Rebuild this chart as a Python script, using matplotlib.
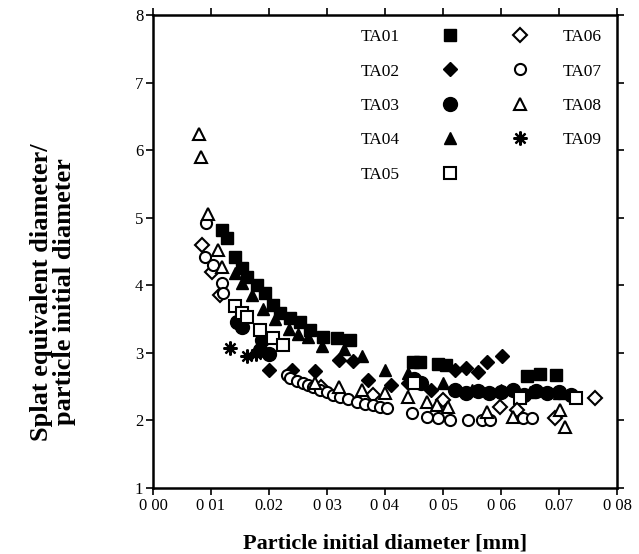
#Splat / particle diameter ratio vs particle initial diameter
import matplotlib
matplotlib.use("Agg")
import matplotlib.pyplot as plt

plt.rcParams['font.family'] = ['Liberation Serif', 'DejaVu Serif']

# dados (x em mm, y = razao de diametros)
ta01_x = [0.0119, 0.0128, 0.0141, 0.0153, 0.0162, 0.0179, 0.0193, 0.0207, 0.0219, 0.0236, 0.0253,
          0.0271, 0.0293, 0.0317, 0.0340, 0.0448, 0.0460, 0.0491, 0.0505, 0.0645, 0.0668, 0.0695]
ta01_y = [4.82, 4.70, 4.42, 4.25, 4.12, 4.00, 3.88, 3.71, 3.59, 3.51, 3.46,
          3.34, 3.23, 3.22, 3.19, 2.86, 2.86, 2.83, 2.82, 2.66, 2.68, 2.67]

ta02_x = [0.0200, 0.0240, 0.0280, 0.0320, 0.0345, 0.0370, 0.0410, 0.0440, 0.0480, 0.0520,
          0.0540, 0.0560, 0.0576, 0.0602]
ta02_y = [2.75, 2.74, 2.73, 2.90, 2.88, 2.60, 2.52, 2.55, 2.45, 2.75,
          2.78, 2.72, 2.86, 2.95]

ta03_x = [0.0145, 0.0153, 0.0188, 0.0184, 0.0200, 0.0450, 0.0462, 0.0520, 0.0540, 0.0560,
          0.0580, 0.0600, 0.0620, 0.0640, 0.0660, 0.0680, 0.0700, 0.0720]
ta03_y = [3.45, 3.38, 3.19, 3.04, 2.98, 2.62, 2.55, 2.45, 2.40, 2.43,
          2.40, 2.42, 2.45, 2.38, 2.43, 2.40, 2.42, 2.38]

ta04_x = [0.0141, 0.0153, 0.0170, 0.0190, 0.0210, 0.0235, 0.0250, 0.0267, 0.0292, 0.0330,
          0.0360, 0.0400, 0.0440, 0.0500, 0.0550, 0.0600, 0.0650, 0.0700]
ta04_y = [4.18, 4.03, 3.85, 3.65, 3.50, 3.35, 3.28, 3.23, 3.10, 3.05,
          2.95, 2.75, 2.70, 2.55, 2.45, 2.45, 2.42, 2.40]

ta05_x = [0.0141, 0.0153, 0.0162, 0.0184, 0.0207, 0.0225, 0.0450, 0.0633, 0.0729]
ta05_y = [3.70, 3.59, 3.53, 3.34, 3.22, 3.12, 2.55, 2.33, 2.33]

ta06_x = [0.0084, 0.0102, 0.0115, 0.0290, 0.0380, 0.0500, 0.0598, 0.0628, 0.0693, 0.0762]
ta06_y = [4.60, 4.20, 3.85, 2.50, 2.38, 2.30, 2.20, 2.15, 2.04, 2.33]

ta07_x = [0.0091, 0.0090, 0.0103, 0.0119, 0.0121, 0.0231, 0.0236, 0.0248, 0.0259, 0.0268,
          0.0276, 0.0288, 0.0300, 0.0311, 0.0322, 0.0337, 0.0352, 0.0365, 0.0379, 0.0391,
          0.0403, 0.0447, 0.0472, 0.0491, 0.0512, 0.0543, 0.0567, 0.0581, 0.0638, 0.0653]
ta07_y = [4.92, 4.42, 4.30, 4.03, 3.88, 2.67, 2.63, 2.59, 2.55, 2.52,
          2.49, 2.45, 2.42, 2.38, 2.35, 2.31, 2.27, 2.25, 2.23, 2.20,
          2.18, 2.11, 2.05, 2.04, 2.01, 2.01, 2.00, 2.00, 2.04, 2.04]

ta08_x = [0.0079, 0.0083, 0.0095, 0.0112, 0.0119, 0.0280, 0.0320, 0.0360, 0.0400, 0.0440,
          0.0472, 0.0490, 0.0509, 0.0576, 0.0620, 0.0702, 0.0710]
ta08_y = [6.24, 5.90, 5.05, 4.52, 4.27, 2.55, 2.50, 2.45, 2.40, 2.35,
          2.27, 2.23, 2.20, 2.12, 2.05, 2.15, 1.90]

ta09_x = [0.0133, 0.0162, 0.0178]
ta09_y = [3.07, 2.96, 2.98]

xticks = [0.00, 0.01, 0.02, 0.03, 0.04, 0.05, 0.06, 0.07, 0.08]
xtick_labels = ["0 00", "0 01", "0.02", "0 03", "0 04", "0 05", "0 06", "0.07", "0 08"]
yticks = [1, 2, 3, 4, 5, 6, 7, 8]

fig = plt.figure(figsize=(6.39, 5.54), dpi=100)
ax = fig.add_axes([0.2394, 0.1191, 0.7262, 0.8538])

k = dict(linestyle="none", color="black")
h1 = ax.plot(ta01_x, ta01_y, marker="s", markersize=9, label="TA01", **k)[0]
h2 = ax.plot(ta02_x, ta02_y, marker="D", markersize=7, label="TA02", **k)[0]
h3 = ax.plot(ta03_x, ta03_y, marker="o", markersize=10, label="TA03", **k)[0]
h4 = ax.plot(ta04_x, ta04_y, marker="^", markersize=9, label="TA04", **k)[0]
h5 = ax.plot(ta05_x, ta05_y, marker="s", markersize=9, markerfacecolor="white", markeredgewidth=1.5, label="TA05", **k)[0]
h6 = ax.plot(ta06_x, ta06_y, marker="D", markersize=7, markerfacecolor="white", markeredgewidth=1.5, label="TA06", **k)[0]
h7 = ax.plot(ta07_x, ta07_y, marker="o", markersize=8, markerfacecolor="white", markeredgewidth=1.5, label="TA07", **k)[0]
h8 = ax.plot(ta08_x, ta08_y, marker="^", markersize=9, markerfacecolor="white", markeredgewidth=1.5, label="TA08", **k)[0]
h9 = ax.plot(ta09_x, ta09_y, marker=(8, 2, 0), markersize=10, markeredgewidth=1.6, label="TA09", **k)[0]

ax.set_xlim(0, 0.08)
ax.set_ylim(1, 8)
ax.set_xticks(xticks)
ax.set_xticklabels(xtick_labels)
ax.set_yticks(yticks)
ax.tick_params(direction="out", length=5, width=1.2, labelsize=12, top=True, right=True,
               labeltop=False, labelright=False, pad=2)
for s in ax.spines.values():
    s.set_linewidth(1.8)

ax.set_xlabel("Particle initial diameter [mm]", fontsize=16, fontweight="bold", labelpad=14)
fig.text(0.083, 1 - 292 / 554, "Splat equivalent diameter/\nparticle initial diameter",
         rotation=90, ha="center", va="center", fontsize=19, fontweight="bold", linespacing=0.95)

# legenda em duas colunas: texto-marcador e marcador-texto
leg_kw = dict(frameon=False, numpoints=1, fontsize=12.5, labelspacing=1.05, borderpad=0,
              borderaxespad=0, handlelength=1.0, bbox_transform=fig.transFigure)
leg1 = ax.legend([h1, h2, h3, h4, h5], ["TA01", "TA02", "TA03", "TA04", "TA05"], loc="upper right",
                 bbox_to_anchor=(459 / 639, 1 - 29 / 554), markerfirst=False, handletextpad=2.4, **leg_kw)
ax.add_artist(leg1)
ax.legend([h6, h7, h8, h9], ["TA06", "TA07", "TA08", "TA09"], loc="upper left",
          bbox_to_anchor=(511 / 639, 1 - 29 / 554), markerfirst=True, handletextpad=2.0, **leg_kw)

fig.savefig("out.png", dpi=100)
